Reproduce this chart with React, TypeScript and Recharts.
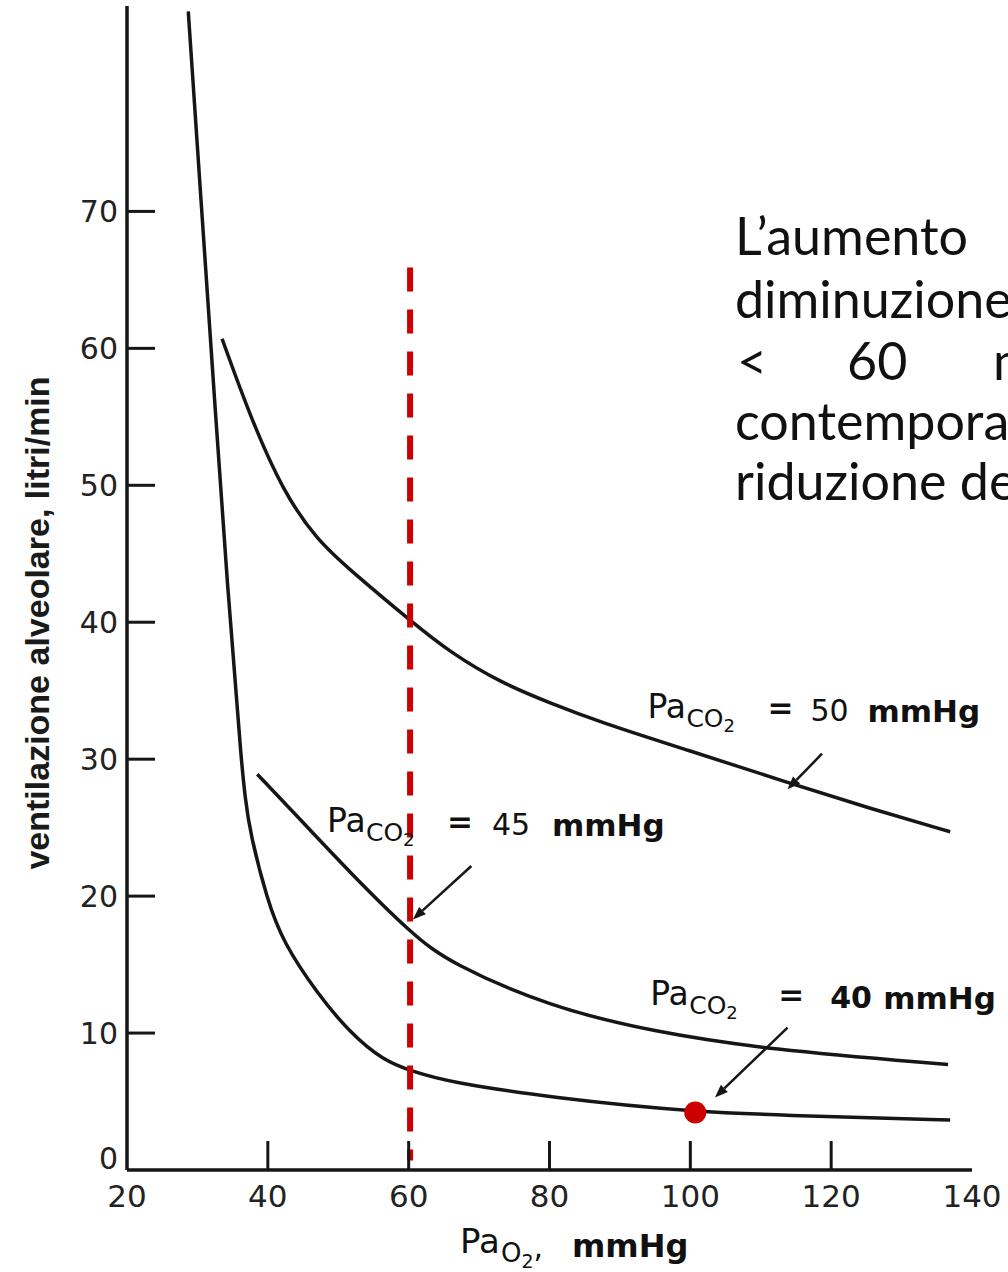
import { LineChart, Line, XAxis, YAxis, ReferenceLine, ReferenceDot } from 'recharts';

// PaO2 (mmHg) vs ventilazione alveolare (litri/min)
const PAO2_CO2_40 = [28.7, 30.5, 32.4, 34.4, 35.6, 36.1, 36.8, 37.5, 39.9, 42.2, 47.0, 51.7, 56.4, 60.5, 65.9, 80.1, 100.7, 119.6, 136.9];
const VENT_CO2_40 = [84.6, 70.9, 56.5, 41.6, 34.3, 30.7, 27.0, 24.6, 19.7, 16.6, 12.9, 10.0, 8.0, 7.2, 6.4, 5.3, 4.2, 3.9, 3.65];

const PAO2_CO2_45 = [38.5, 44.6, 51.7, 60.5, 65.9, 80.1, 94.7, 110.9, 136.6];
const VENT_CO2_45 = [28.9, 25.6, 21.7, 17.2, 15.1, 11.9, 10.1, 8.8, 7.7];

const PAO2_CO2_50 = [33.5, 37.5, 42.2, 47.0, 51.7, 60.5, 65.9, 73.0, 80.1, 87.2, 99.4, 113.8, 125.5, 136.9];
const VENT_CO2_50 = [60.7, 55.0, 49.5, 46.0, 43.8, 40.0, 37.8, 35.6, 34.1, 32.7, 30.7, 28.3, 26.4, 24.7];

const X_TICKS = [20, 40, 60, 80, 100, 120, 140];
const Y_TICKS = [0, 10, 20, 30, 40, 50, 60, 70];

// etichette PaCO2 (punto di partenza del testo)
const LABEL_VALUES = ['50', '45', '40'];
const LABEL_PAO2 = [93.9, 48.4, 94.3];
const LABEL_VENT = [33.0, 24.7, 12.05];

// frecce: da -> a
const ARROW_FROM_PAO2 = [118.7, 68.9, 113.8];
const ARROW_FROM_VENT = [30.4, 22.2, 10.4];
const ARROW_TO_PAO2 = [113.8, 60.6, 103.5];
const ARROW_TO_VENT = [27.8, 18.3, 5.3];

const THRESHOLD_PAO2 = 60.2;
const THRESHOLD_VENT = [65.9, 0.7];
const NORMAL_PAO2 = 100.7;
const NORMAL_VENT = 4.2;

const INK = '#161616';
const RED = '#cc0000';
const TICK_FONT = 'DejaVu Sans';

const zip = (xs: number[], ys: number[]) => xs.map((x, i) => ({ x, y: ys[i] }));

const curves = [
  { key: 'co2_50', data: zip(PAO2_CO2_50, VENT_CO2_50) },
  { key: 'co2_45', data: zip(PAO2_CO2_45, VENT_CO2_45) },
  { key: 'co2_40', data: zip(PAO2_CO2_40, VENT_CO2_40) },
];

// spaziatura orizzontale delle parti di ogni etichetta (px)
const LABEL_LAYOUT: Record<string, { co: number; eq: number; num: number; mm: number; bold: boolean }> = {
  '50': { co: 39, eq: 120, num: 163, mm: 220, bold: false },
  '45': { co: 39, eq: 120, num: 165, mm: 225, bold: false },
  '40': { co: 39, eq: 128, num: 180, mm: 233, bold: true },
};

function XTick({ x, y, payload }: any) {
  const v = payload.value;
  const inner = v !== 20 && v !== 140;
  return (
    <g>
      {inner && <line x1={x} y1={y} x2={x} y2={y - 29} stroke={INK} strokeWidth={3} />}
      <text x={x} y={y + 37} textAnchor="middle" fontFamily={TICK_FONT} fontSize={31} fill="#222">
        {v}
      </text>
    </g>
  );
}

function YTick({ x, y, payload }: any) {
  const v = payload.value;
  // lo zero sta appena sopra l'asse x, come nell'originale
  const base = v === 0 ? y - 1 : y + 11;
  return (
    <g>
      {v !== 0 && <line x1={x} y1={y} x2={x + 28} y2={y} stroke={INK} strokeWidth={3} />}
      <text x={x - 9} y={base} textAnchor="end" fontFamily={TICK_FONT} fontSize={30} fill="#222">
        {v}
      </text>
    </g>
  );
}

function CurveLabel({ cx, cy, value }: { cx: number; cy: number; value: string }) {
  const l = LABEL_LAYOUT[value];
  return (
    <text x={cx} y={cy} fontFamily={TICK_FONT} fill="#111">
      <tspan fontSize={33}>Pa</tspan>
      <tspan x={cx + l.co} y={cy + 9} fontSize={25}>CO</tspan>
      <tspan y={cy + 14} fontSize={18}>2</tspan>
      <tspan x={cx + l.eq} y={cy} fontSize={31} fontWeight="bold">=</tspan>
      <tspan x={cx + l.num} y={cy + 3} fontSize={30} fontWeight={l.bold ? 'bold' : 'normal'}>
        {value}
      </tspan>
      <tspan x={cx + l.mm} y={cy + 4} fontSize={31} fontWeight="bold">mmHg</tspan>
    </text>
  );
}

function Arrow({ x1, y1, x2, y2 }: any) {
  const a = Math.atan2(y2 - y1, x2 - x1);
  const len = 13;
  const w = 5;
  const bx = x2 - len * Math.cos(a);
  const by = y2 - len * Math.sin(a);
  const px = -Math.sin(a) * w;
  const py = Math.cos(a) * w;
  return (
    <g>
      <line x1={x1} y1={y1} x2={bx} y2={by} stroke={INK} strokeWidth={2.5} />
      <polygon points={`${x2},${y2} ${bx + px},${by + py} ${bx - px},${by - py}`} fill={INK} />
    </g>
  );
}

function XTitle() {
  return (
    <text x={460} y={1253} fontFamily={TICK_FONT} fill="#111">
      <tspan fontSize={34}>Pa</tspan>
      <tspan x={501} y={1262} fontSize={26}>O</tspan>
      <tspan y={1268} fontSize={19}>2</tspan>
      <tspan y={1257} fontSize={30}>,</tspan>
      <tspan x={572} y={1257} fontSize={32} fontWeight="bold">mmHg</tspan>
    </text>
  );
}

function YTitle() {
  return (
    <text
      x={49}
      y={623}
      transform="rotate(-90 49 623)"
      textAnchor="middle"
      fontFamily="Liberation Sans"
      fontWeight="bold"
      fontSize={34}
      fill="#1a1a1a"
    >
      ventilazione alveolare, litri/min
    </text>
  );
}

export default function App() {
  return (
    <div style={{ position: 'absolute', left: 0, top: 0, width: 1008, height: 1272, background: '#fff', overflow: 'hidden' }}>
      <LineChart width={1008} height={1272} margin={{ top: 6, right: 36, bottom: 42, left: 67 }}>
        <XAxis
          type="number"
          dataKey="x"
          domain={[20, 140]}
          ticks={X_TICKS}
          interval={0}
          height={60}
          tickSize={0}
          tickMargin={0}
          tickLine={false}
          axisLine={{ stroke: INK, strokeWidth: 3.5 }}
          tick={<XTick />}
          allowDataOverflow
          label={XTitle}
        />
        <YAxis
          type="number"
          dataKey="y"
          domain={[0, 85]}
          ticks={Y_TICKS}
          interval={0}
          width={60}
          tickSize={0}
          tickMargin={0}
          tickLine={false}
          axisLine={{ stroke: INK, strokeWidth: 3.5 }}
          tick={<YTick />}
          allowDataOverflow
          label={YTitle}
        />
        {curves.map((c) => (
          <Line
            key={c.key}
            data={c.data}
            dataKey="y"
            type="basis"
            stroke={INK}
            strokeWidth={3.5}
            dot={false}
            activeDot={false}
            isAnimationActive={false}
          />
        ))}
        <ReferenceLine
          segment={[
            { x: THRESHOLD_PAO2, y: THRESHOLD_VENT[0] },
            { x: THRESHOLD_PAO2, y: THRESHOLD_VENT[1] },
          ]}
          stroke={RED}
          strokeWidth={6}
          strokeDasharray="24 18"
        />
        {LABEL_VALUES.map((v, i) => (
          <ReferenceLine
            key={`arrow-${v}`}
            segment={[
              { x: ARROW_FROM_PAO2[i], y: ARROW_FROM_VENT[i] },
              { x: ARROW_TO_PAO2[i], y: ARROW_TO_VENT[i] },
            ]}
            shape={(p: any) => <Arrow {...p} />}
          />
        ))}
        {LABEL_VALUES.map((v, i) => (
          <ReferenceDot
            key={`label-${v}`}
            x={LABEL_PAO2[i]}
            y={LABEL_VENT[i]}
            r={0}
            shape={(p: any) => <CurveLabel cx={p.cx} cy={p.cy} value={v} />}
          />
        ))}
        <ReferenceDot x={NORMAL_PAO2} y={NORMAL_VENT} r={11} fill={RED} stroke="none" />
        <g fontFamily="Lato" fontSize={52} fill="#111">
          <text x={735} y={255}>L’aumento</text>
          <text x={735} y={318}>diminuzione</text>
          <text y={380}>
            <tspan x={737}>&lt;</tspan>
            <tspan x={847}>60</tspan>
            <tspan x={993}>mmHg</tspan>
          </text>
          <text x={735} y={440}>contemporanea</text>
          <text x={735} y={500}>riduzione della</text>
        </g>
      </LineChart>
    </div>
  );
}
